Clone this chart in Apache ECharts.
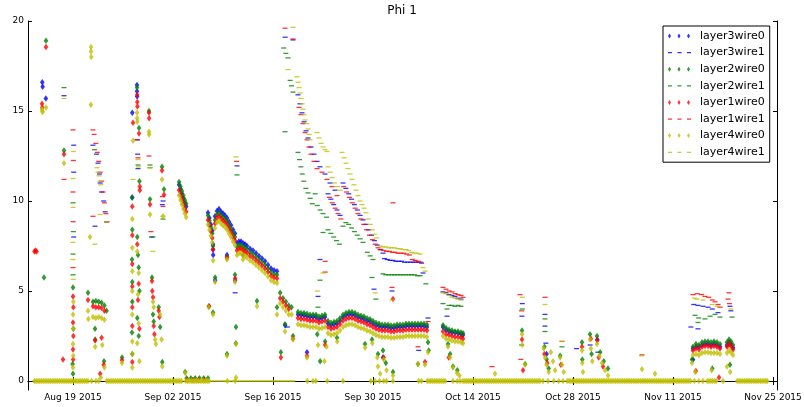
<!DOCTYPE html>
<html lang="en">
<head>
<meta charset="UTF-8">
<title>Phi 1</title>
<script src="https://cdn.jsdelivr.net/npm/echarts@6.0.0/dist/echarts.min.js"></script>
<style>
  html, body { margin: 0; padding: 0; background: #fff; }
  #main { width: 804px; height: 407px; }
</style>
</head>
<body>
<div id="main"></div>
<script type="text/javascript">
// x values are days counted from Aug 1 2015 (Aug 19 = 18)
var tickDays = [18, 32, 46, 60, 74, 88, 102, 116];
var tickLabels = ['Aug 19 2015', 'Sep 02 2015', 'Sep 16 2015', 'Sep 30 2015',
                  'Oct 14 2015', 'Oct 28 2015', 'Nov 11 2015', 'Nov 25 2015'];
var yTicks = [0, 5, 10, 15, 20];

// thick band, early Sep
var bandADays = [32.85,33.05,33.25,33.45,33.65,33.85,36.9,37.1,37.3,37.5,
  37.88,38.16,38.44,38.72,39.0,39.28,39.56,39.84,40.12,40.4,40.68,40.96,41.24,41.52,41.8,
  42.08,42.36,42.78,43.2,43.62,44.04,44.46,44.88,45.3,45.72,46.14,46.56];
var bandA_l3 = [10.9,10.65,10.4,10.15,9.9,9.7,9.35,9.05,8.7,8.35,
  9.15,9.45,9.55,9.4,9.3,9.2,9.05,8.85,8.65,8.4,8.2,7.65,7.75,7.75,7.65,
  7.6,7.5,7.35,7.25,7.1,6.95,6.8,6.65,6.45,6.25,6.15,6.1];
var bandA_l2 = [11.05,10.8,10.55,10.3,10.05,9.85,9.2,8.9,8.55,8.2,
  8.95,9.25,9.35,9.2,9.1,9.0,8.85,8.65,8.45,8.2,8.0,7.45,7.55,7.55,7.45,
  7.4,7.3,7.15,7.05,6.9,6.75,6.6,6.45,6.25,6.05,5.95,5.9];
var bandA_l1 = [10.6,10.35,10.1,9.85,9.6,9.4,8.95,8.65,8.3,7.95,
  8.75,9.05,9.15,9.0,8.9,8.8,8.65,8.45,8.25,8.0,7.8,7.25,7.35,7.35,7.25,
  7.2,7.1,6.95,6.85,6.7,6.55,6.4,6.25,6.05,5.85,5.75,5.7];
var bandA_l4 = [10.3,10.05,9.8,9.55,9.3,9.1,8.7,8.4,8.05,7.7,
  8.5,8.8,8.9,8.75,8.65,8.55,8.4,8.2,8.0,7.75,7.55,7.0,7.1,7.1,7.0,
  6.95,6.85,6.7,6.6,6.45,6.3,6.15,6.0,5.8,5.6,5.5,5.45];

// band around 3-4, Sep 18 - Oct 6
var bandBDays = [49.5,49.92,50.34,50.76,51.18,51.6,52.02,52.44,52.86,53.28,
  53.7,54.12,54.54,54.96,55.38,55.8,56.22,56.64,57.06,57.48,
  57.9,58.32,58.74,59.16,59.58,60.0,60.42,60.84,61.26,61.68,
  62.1,62.52,62.94,63.36,63.78,64.2,64.62,65.04,65.46,65.88,
  66.3,66.72,67.14,67.56];
var bandB_l3 = [3.7,3.65,3.65,3.6,3.55, 3.55,3.55,3.45,3.5,3.55, 3.2,3.1,3.15,3.2,3.35,
  3.55,3.65,3.7,3.7,3.65, 3.55,3.5,3.45,3.35,3.3, 3.2,3.1,3.05,3.0,3.0,
  3.0,2.95,2.95,3.0,3.0, 3.0,3.05,3.05,3.05,3.05, 3.05,3.05,3.05,3.0];
var bandB_l2 = [3.83,3.78,3.78,3.73,3.68, 3.68,3.68,3.58,3.63,3.68, 3.33,3.23,3.28,3.33,3.48,
  3.68,3.78,3.83,3.83,3.78, 3.68,3.63,3.58,3.48,3.43, 3.33,3.23,3.18,3.13,3.13,
  3.13,3.08,3.08,3.13,3.13, 3.13,3.18,3.18,3.18,3.18, 3.18,3.18,3.18,3.13];
var bandB_l1 = [3.5,3.45,3.45,3.4,3.35, 3.35,3.35,3.25,3.3,3.35, 3.0,2.9,2.95,3.0,3.15,
  3.35,3.45,3.5,3.5,3.45, 3.35,3.3,3.25,3.15,3.1, 3.0,2.9,2.85,2.8,2.8,
  2.8,2.75,2.75,2.8,2.8, 2.8,2.85,2.85,2.85,2.85, 2.85,2.85,2.85,2.8];
var bandB_l4 = [3.15,3.1,3.1,3.05,3.0, 3.0,3.0,2.9,2.95,3.0, 2.65,2.55,2.6,2.65,2.8,
  3.0,3.1,3.15,3.15,3.1, 3.0,2.95,2.9,2.8,2.75, 2.65,2.55,2.5,2.45,2.45,
  2.45,2.4,2.4,2.45,2.45, 2.45,2.5,2.5,2.5,2.5, 2.5,2.5,2.5,2.45];

// short band Oct 8-12
var bandCDays = [69.8,70.22,70.64,71.06,71.48,71.9,72.32,72.6];
var bandC_l3 = [3.0,2.85,2.75,2.7,2.7,2.65,2.6,2.55];
var bandC_l2 = [3.1,2.95,2.85,2.8,2.75,2.75,2.7,2.65];
var bandC_l1 = [2.75,2.6,2.55,2.5,2.45,2.45,2.4,2.35];
var bandC_l4 = [2.5,2.35,2.3,2.25,2.2,2.2,2.15,2.1];

// short band mid Nov
var bandEDays = [104.8,105.22,105.64,106.06,106.48,106.9,107.32,107.74,108.16,108.58,109.56,109.84,110.12,110.4];
var bandE_l3 = [1.8,1.9,1.9,2.0,2.05,2.05,2.0,2.05,2.0,1.9,2.0,2.15,2.05,1.85];
var bandE_l2 = [1.9,2.05,2.0,2.15,2.2,2.2,2.15,2.2,2.15,2.05,2.15,2.3,2.2,2.0];
var bandE_l1 = [1.7,1.8,1.75,1.9,1.95,1.95,1.9,1.95,1.9,1.8,1.9,2.05,1.95,1.75];
var bandE_l4 = [1.45,1.5,1.45,1.55,1.6,1.6,1.55,1.55,1.55,1.5,1.55,1.7,1.6,1.45];

// days where layer4wire0 sits at zero
var zeroDays = [12.6,12.85,13.1,13.35,13.6,13.85,14.1,14.35,14.6,14.85,15.1,15.35,15.6,15.85,
  16.1,16.35,16.6,16.85,17.1,17.35,17.6,17.85,
  18.1,18.35,18.6,18.85,19.1,19.35,19.6,19.85,20.1,20.6,21.2,21.6,
  22.7,22.95,23.2,23.45,23.7,23.95,24.2,24.45,24.7,24.95,25.2,25.45,25.7,25.95,26.2,26.45,
  26.7,26.95,27.2,27.45,27.7,27.95,28.2,28.45,28.7,28.95,29.2,29.45,29.7,29.95,30.2,30.45,
  30.7,30.95,31.2,31.45,31.7,31.95,32.2,32.45,32.7,32.95,33.2,
  33.8,34.05,34.3,34.55,34.8,35.05,35.3,35.55,35.8,36.05,36.3,36.55,36.8,37.05,
  39.6,40.7,50.8,51.6,52.0,53.6,55.8,59.7,60.3,60.9,61.5,61.9,62.8,66.4,66.8,
  67.6,67.85,68.1,68.35,68.6,68.85,69.1,69.35,69.6,69.85,70.1,71.2,71.8,72.2,
  72.6,72.85,73.1,73.35,73.6,73.85,74.1,74.35,74.6,74.85,75.1,75.35,75.6,75.85,76.1,76.35,
  76.6,76.85,77.1,77.35,77.6,77.85,78.1,78.35,78.6,78.85,79.1,79.35,79.6,79.85,80.1,80.35,
  80.6,80.85,81.1,81.35,81.6,81.85,82.1,82.35,82.6,82.85,83.1,83.35,
  83.8,84.5,85.3,86.0,86.6,
  87.2,87.45,87.7,87.95,88.2,88.45,88.7,88.95,89.2,89.45,89.7,89.95,90.2,90.45,90.7,90.95,
  91.2,91.45,91.7,91.95,92.2,92.45,92.7,92.95,93.2,93.45,93.7,93.95,94.2,94.45,94.7,94.95,
  95.2,95.45,95.7,95.95,96.2,96.45,96.7,96.95,97.2,97.45,97.7,97.95,98.2,98.45,98.7,98.95,
  99.2,99.45,99.7,99.95,100.2,100.45,100.7,100.95,101.2,101.45,101.7,101.95,102.2,102.45,
  102.7,102.95,103.2,103.45,103.7,103.95,104.2,104.45,
  105.0,105.6,106.2,106.8,107.05,107.3,107.55,107.8,108.05,109.0,
  111.0,111.25,111.5,111.75,112.0,112.25,112.5,112.75,113.0,113.25,113.5,113.75,
  114.0,114.25,114.5,114.75,115.0,115.2];
// days where layer4wire1 draws the thin line at zero
var zeroLineDays = [37.4,37.8,38.2,38.6,39.0,39.4,39.8,40.2,40.6,41.0,41.4,41.8,42.2,42.6,43.0,
  43.4,43.8,44.2,44.6,45.0,45.4,45.8,46.2,46.6,47.0,47.4,47.8,48.2,48.6,48.8];

// loose points [day, value]
var l3w0Pts = [[13.7,16.6],[13.75,16.35],[14.2,15.7],[26.96,16.45],[26.96,16.1],[26.98,15.8],
  [26.3,14.9],[26.3,10.2],[37.6,7.6],[37.6,7.3],[37.62,7.0],[37.9,5.6],[39.56,7.0],[41.8,7.0],
  [40.7,5.6],[47.7,3.1],[50.76,1.6],[61.4,1.3],[84.3,1.5],[91.4,2.3],[104.8,1.2]];
var l3w1Pts = [[16.74,15.85],[18.1,13.1],[18.1,11.6],[18.1,8.0],[20.8,13.1],[21.3,12.6],[21.5,12.1],
  [21.7,11.5],[21.8,11.0],[22.0,10.5],[22.3,10.0],[22.5,9.4],[22.7,8.85],[21.08,8.6],[27.0,13.4],
  [27.05,12.6],[27.1,11.8],[30.6,10.0],[30.5,9.8],[29.0,8.0],[40.96,11.95],[40.7,4.9],
  [47.7,19.1],[48.8,18.95],
  [49.5,15.9],[49.78,15.4],[50.06,14.9],[50.34,14.4],[50.62,13.9],[50.9,13.5],[51.32,13.0],[51.74,12.6],[52.16,12.2],
  [52.58,11.9],[53.28,11.5],[53.98,11.0],[54.68,10.6],
  [53.7,10.4],[54.1,10.1],[54.5,9.8],[54.96,9.5],[55.38,9.2],
  [55.8,11.0],[56.2,10.7],[56.6,10.4],[57.0,10.1],[57.4,9.8],[57.8,9.5],[58.2,9.2],[58.6,8.95],
  [59.0,8.7],[59.4,8.4],[59.8,8.1],[60.2,7.8],[60.6,7.55],[61.0,7.3],[61.4,7.1],
  [61.6,6.8],[62.0,6.75],[62.4,6.7],[62.8,6.7],[63.2,6.65],[63.6,6.65],[64.0,6.65],[64.4,6.6],
  [64.8,6.6],[65.2,6.6],[65.6,6.6],[66.0,6.6],[66.4,6.6],[66.8,6.55],
  [52.58,6.75],[48.0,3.0],[52.3,4.7],[60.14,5.1],[62.66,5.0],[67.0,6.0],[67.7,3.5],[66.4,1.7],
  [69.8,4.95],[70.22,4.9],[70.64,4.8],[71.06,4.75],[71.48,4.7],[71.9,4.6],[72.32,4.55],[70.36,3.6],
  [80.9,4.3],[80.85,3.6],[84.08,3.7],[84.08,3.05],[84.2,2.1],[88.5,1.8],[90.4,2.0],[91.5,1.6],
  [104.9,4.25],[105.5,4.2],[106.2,4.15],[106.9,4.1],[107.5,4.0],[108.3,3.8],[109.98,4.15],[110.1,3.9],
  [105.5,2.9],[104.5,3.0]];
var l2w0Pts = [[14.22,18.9],[13.94,5.75],[16.74,12.8],[18.0,5.2],[18.05,2.9],[17.95,0.95],[18.0,0.4],
  [20.1,4.9],[21.08,2.9],[21.1,2.3],[22.34,1.1],[20.8,4.4],[21.2,4.45],[21.6,4.4],[22.0,4.35],
  [22.4,4.2],[22.7,3.9],[24.86,1.3],
  [26.96,16.3],[27.24,14.05],[27.3,11.1],[26.26,10.2],[26.3,8.4],[26.26,6.75],[26.3,5.5],[26.3,4.4],
  [26.26,2.7],[26.3,1.5],[27.0,8.0],[27.1,7.0],[27.2,6.3],[27.3,5.0],[27.0,3.5],[27.2,2.5],
  [28.64,15.0],[28.78,10.1],[29.06,5.75],[29.2,3.7],[29.3,3.3],[30.46,11.9],[30.74,10.65],
  [30.0,4.1],[30.2,3.0],[30.5,1.05],[33.7,0.5],
  [33.9,0.15],[34.5,0.15],[35.1,0.15],[35.7,0.15],[36.3,0.15],[36.9,0.15],
  [37.6,7.5],[37.9,5.75],[37.04,4.15],[37.6,3.8],[39.56,1.5],[39.56,6.9],[40.68,5.9],[40.82,3.0],
  [40.8,2.1],[43.76,4.45],[46.56,4.1],
  [47.0,4.9],[47.4,4.6],[47.8,4.4],[48.2,4.2],[48.6,4.1],[47.68,3.15],[48.8,2.5],[47.1,1.6],
  [52.2,2.6],[52.6,1.1],[53.3,2.2],[54.96,2.4],[58.88,2.05],[59.86,2.3],[60.7,1.5],[61.4,1.7],
  [61.8,1.0],[62.8,0.5],[66.3,0.95],[67.7,2.15],[67.8,1.7],
  [70.5,2.05],[70.8,1.5],[71.2,0.8],[71.8,0.6],[80.86,2.8],[81.3,0.95],
  [84.0,1.9],[84.3,1.2],[84.6,0.7],[86.2,1.4],[89.26,2.15],[89.3,1.2],[90.38,2.6],[90.6,1.5],
  [91.36,2.5],[91.8,1.6],[92.3,1.1],[92.9,0.7],[104.66,1.2],[107.5,0.7],[109.98,0.9]];
var l2w1Pts = [[16.74,16.3],[18.0,9.9],[18.05,8.3],[18.0,7.05],[18.0,5.9],[21.0,12.85],[22.7,8.85],
  [27.1,12.0],[28.78,12.0],[28.78,11.85],[30.6,9.0],[29.2,8.0],[40.96,11.45],
  [47.5,18.5],[47.8,18.2],[48.1,17.95],[48.4,16.7],[48.6,16.4],[48.8,16.05],[47.68,13.85],
  [49.5,12.7],[49.7,12.3],[49.9,11.9],[50.1,11.5],[50.3,11.1],[50.6,10.7],
  [50.9,10.45],[51.2,10.15],[51.5,9.85],[52.2,9.75],[52.6,9.5],[53.0,9.3],[53.5,9.1],
  [53.7,8.4],[54.1,8.2],[54.5,8.0],[54.9,7.8],[55.3,7.6],
  [55.8,8.6],[56.2,8.8],[56.6,8.7],[57.0,8.5],[57.4,8.3],[57.8,8.1],[58.2,7.9],[58.6,7.7],
  [59.2,7.15],[59.6,6.95],[60.0,6.75],
  [61.4,5.95],[61.8,5.9],[62.2,5.9],[62.6,5.9],[63.0,5.9],[63.4,5.9],[63.8,5.9],[64.2,5.9],
  [64.6,5.9],[65.0,5.9],[65.4,5.9],[65.8,5.9],[66.2,5.85],[66.6,5.85],
  [52.58,5.6],[51.9,10.4],[53.0,8.25],[59.86,5.75],[60.4,4.55],[52.3,4.1],[67.4,5.4],
  [69.8,4.3],[70.36,4.0],[70.64,4.2],[71.06,4.2],[71.48,4.15],[71.9,4.2],[72.32,4.15],
  [80.9,4.0],[80.8,2.0],[84.08,3.45],[84.08,2.75],[86.46,1.9],
  [105.08,3.65],[105.6,3.5],[106.48,3.45],[107.2,3.6],[107.88,3.7],[108.58,3.55],[110.26,3.55],[105.5,3.25]];
var l1w0Pts = [[12.6,7.2],[12.75,7.25],[12.9,7.2],[14.22,18.55],[13.66,15.4],[13.7,15.2],[16.6,1.2],
  [16.74,12.6],[18.0,4.7],[18.05,4.1],[18.0,3.25],[18.05,2.5],[18.0,1.75],[18.02,1.2],
  [20.1,4.5],[20.8,4.15],[21.2,4.1],[21.6,4.1],[22.0,4.05],[22.4,3.9],[21.1,2.25],[22.0,2.4],
  [21.8,0.4],[22.3,0.9],[24.86,1.15],
  [26.4,14.35],[26.98,15.9],[27.0,15.5],[27.02,15.25],[27.24,13.75],[27.35,10.8],[27.35,10.6],
  [26.3,9.7],[26.3,8.1],[26.3,6.5],[26.3,5.25],[26.3,4.1],[26.3,3.05],[26.3,1.05],[27.0,7.6],
  [27.2,5.4],[27.1,4.5],[27.3,2.9],
  [28.64,14.9],[28.66,14.6],[28.78,9.8],[29.06,5.55],[29.1,5.0],[29.2,4.65],[29.3,3.05],[29.4,2.6],
  [30.0,3.9],[30.1,3.55],[30.46,11.7],[30.74,10.35],
  [34.0,0.05],[34.8,0.05],[35.6,0.05],[36.4,0.05],
  [37.04,4.15],[37.6,7.3],[39.56,6.85],[40.7,5.7],
  [47.0,4.6],[47.4,4.4],[47.8,4.2],[48.2,4.0],[47.1,1.3],[48.8,2.35],[50.76,1.4],[53.3,2.0],
  [62.8,4.55],[61.5,1.3],[67.28,1.05],[70.6,1.3],[80.86,2.3],[81.0,0.6],
  [84.0,1.5],[84.4,1.0],[86.3,0.9],[89.26,1.9],[90.5,2.35],[91.4,2.25],[91.6,1.3],[92.2,0.8],
  [108.44,0.2],[105.2,0.55]];
var l1w1Pts = [[16.74,11.2],[18.0,13.95],[18.05,12.25],[18.0,10.5],[18.02,8.85],[18.0,6.3],
  [20.8,13.95],[20.95,13.7],[21.2,13.2],[21.4,12.7],[21.6,12.2],[21.8,11.6],[22.0,11.1],
  [22.2,10.5],[22.4,9.9],[22.6,9.3],[22.76,8.85],[20.8,9.15],
  [26.98,13.4],[27.1,12.4],[28.64,12.5],[30.5,10.25],[30.6,9.7],[28.9,8.3],[40.9,12.2],
  [47.68,19.6],[48.8,19.0],
  [49.64,15.2],[49.92,14.8],[50.2,14.3],[50.48,13.8],[50.76,13.4],[51.04,13.0],[51.32,12.6],
  [51.74,12.2],[52.16,11.8],[52.86,11.6],[53.56,11.2],[54.26,10.8],[54.96,10.3],
  [53.9,10.2],[54.3,9.9],[54.7,9.6],[55.1,9.3],[55.5,9.0],
  [55.9,10.8],[56.3,10.5],[56.7,10.2],[57.1,9.9],[57.5,9.6],[57.9,9.3],[58.3,9.0],[58.7,8.7],
  [59.1,8.4],[59.5,8.1],[59.9,7.85],[60.3,7.6],[60.7,7.4],[61.1,7.3],
  [61.5,7.25],[61.9,7.2],[62.3,7.2],[62.7,7.15],[63.1,7.15],[63.5,7.1],[63.9,7.1],[64.3,7.1],
  [64.7,7.05],[65.1,7.0],[65.5,6.75],[65.9,6.7],[66.3,6.65],[66.7,6.6],
  [53.3,6.65],[53.3,6.05],[62.8,9.9],[62.66,5.2],[66.3,1.9],[67.7,3.3],
  [69.8,5.2],[70.22,5.1],[70.64,5.0],[71.06,4.95],[71.48,4.85],[71.9,4.8],[72.32,4.75],[72.6,4.65],
  [76.66,0.8],[80.58,4.8],[80.8,3.9],[80.7,1.2],[84.08,4.65],[86.46,2.2],[97.66,1.45],
  [104.8,4.8],[105.4,4.85],[106.0,4.8],[106.48,4.7],[107.0,4.65],[107.5,4.5],[107.88,4.4],
  [108.3,4.25],[108.58,4.1],[109.7,4.55],[109.84,4.9],[109.9,4.3]];
var l4w0Pts = [[13.66,15.1],[13.7,15.0],[13.75,14.95],[14.22,15.2],[16.74,12.1],
  [18.05,4.4],[18.0,3.7],[18.02,2.9],[18.0,2.05],[18.03,1.4],[18.0,0.75],
  [20.52,18.55],[20.52,18.3],[20.55,18.0],[20.5,15.35],[20.38,8.0],[20.1,3.9],[20.15,3.45],
  [20.8,3.55],[21.2,3.5],[21.6,3.55],[22.0,3.5],[22.4,3.4],[21.1,1.9],[22.1,2.0],[22.4,0.75],
  [21.9,0.2],[24.86,1.0],
  [26.4,13.35],[26.96,14.9],[26.98,14.6],[27.0,14.4],[26.3,9.0],[26.3,7.4],[26.3,6.1],[26.3,5.0],
  [26.3,3.7],[26.3,2.2],[26.3,1.5],[26.3,0.75],[27.0,7.2],[27.2,6.0],[27.1,4.8],[27.2,3.2],
  [27.0,2.1],[27.3,1.1],
  [28.64,13.85],[28.66,13.7],[28.78,9.25],[29.2,4.4],[29.3,4.1],[29.5,2.3],[29.6,2.05],[30.2,3.7],
  [30.4,2.3],[30.5,0.8],[30.46,11.2],[30.6,9.15],[33.7,0.45],
  [37.0,4.1],[37.62,6.7],[37.88,5.5],[37.6,3.7],[39.56,1.4],[39.56,6.75],[40.68,5.5],[40.8,2.05],
  [40.82,0.2],[41.8,6.75],[43.76,4.15],[46.56,3.7],
  [47.0,4.3],[47.4,4.1],[47.8,3.9],[48.2,3.7],[48.6,3.7],[47.68,2.75],[48.8,2.3],[50.76,1.3],
  [52.3,2.0],[53.2,1.1],[53.5,1.9],[55.0,2.2],[58.9,1.85],[59.9,2.1],[60.6,1.3],[60.7,0.8],
  [61.0,0.4],[61.5,1.2],[61.9,0.6],[62.8,0.3],
  [66.3,0.95],[67.28,0.9],[67.7,1.6],[70.5,1.9],[70.8,1.3],[71.2,0.75],[71.76,0.45],[72.1,0.3],
  [77.08,0.4],[80.86,2.6],[80.9,2.0],[81.28,0.9],
  [83.9,1.8],[84.1,1.3],[84.3,0.9],[84.6,0.5],[84.9,1.6],[85.2,1.1],[85.5,0.6],[86.2,1.3],
  [86.46,0.9],[86.7,0.5],
  [89.26,1.7],[89.3,1.0],[89.4,0.5],[90.38,2.3],[90.5,1.8],[90.7,1.1],[91.36,2.05],[91.7,1.4],
  [92.06,1.0],[92.5,0.6],[92.9,0.3],[97.66,0.65],[99.48,0.4],
  [104.66,1.0],[105.1,0.5],[107.4,0.6],[109.56,0.8],[110.0,0.5]];
var l4w1Pts = [[16.74,15.7],[18.05,12.75],[18.0,11.25],[18.02,9.65],[18.0,7.7],[18.0,6.75],[18.05,5.65],
  [21.36,11.85],[21.5,11.6],[21.64,11.4],[21.78,11.1],[21.9,10.9],[21.08,7.6],[21.78,9.25],[22.7,8.85],
  [26.4,11.2],[27.1,12.3],[27.15,11.9],[28.78,11.85],[29.2,7.2],[30.6,9.15],[40.82,12.45],
  [48.8,19.65],[48.1,17.3],
  [49.36,16.9],[49.5,16.6],[49.64,16.3],[49.78,16.0],[49.92,15.7],[50.06,15.4],[50.2,15.1],
  [50.34,14.8],[50.48,14.5],[50.76,14.3],[50.9,14.0],[51.04,13.7],[51.18,13.4],
  [52.16,13.8],[52.44,13.5],[52.72,13.2],[53.0,13.0],[53.28,12.85],[53.56,12.75],
  [53.7,11.9],[54.0,11.6],[54.3,11.3],[54.6,11.0],[55.0,10.8],[55.4,10.6],
  [55.66,12.7],[55.94,12.4],[56.22,12.1],[56.5,11.8],[56.78,11.5],[57.06,11.2],[57.34,10.9],
  [57.62,10.6],[57.9,10.3],[58.18,10.0],[58.46,9.8],[58.74,9.6],[59.02,9.35],
  [59.3,9.0],[59.6,8.7],[59.9,8.4],[60.2,8.15],[60.5,7.95],
  [61.0,7.5],[61.4,7.45],[61.8,7.45],[62.2,7.4],[62.6,7.4],[63.0,7.4],[63.4,7.35],[63.8,7.35],
  [64.2,7.3],[64.6,7.3],[65.0,7.25],[65.4,7.15],[65.8,7.1],[66.2,7.1],[66.6,7.05],[67.0,6.3],[67.3,6.1],
  [52.2,5.0],[53.0,6.0],[62.66,4.5],[60.3,4.9],
  [69.8,4.9],[70.22,4.85],[70.64,4.75],[71.06,4.65],[71.48,4.6],[71.9,4.55],[72.32,4.5],
  [80.9,4.65],[84.08,4.25],[86.46,2.2],[97.6,1.4],
  [105.36,4.55],[106.2,4.5],[107.46,4.25],[108.2,4.15],[110.12,4.0],[105.0,4.6]];

function zip(days, vals) {
    return days.map(function (d, i) { return [d, vals[i]]; });
}

var l3w0Data = l3w0Pts.concat(zip(bandADays, bandA_l3), zip(bandBDays, bandB_l3), zip(bandCDays, bandC_l3), zip(bandEDays, bandE_l3));
var l2w0Data = l2w0Pts.concat(zip(bandADays, bandA_l2), zip(bandBDays, bandB_l2), zip(bandCDays, bandC_l2), zip(bandEDays, bandE_l2));
var l1w0Data = l1w0Pts.concat(zip(bandADays, bandA_l1), zip(bandBDays, bandB_l1), zip(bandCDays, bandC_l1), zip(bandEDays, bandE_l1));
var l4w0Data = zeroDays.map(function (d) { return [d, 0]; })
    .concat(l4w0Pts, zip(bandADays, bandA_l4), zip(bandBDays, bandB_l4), zip(bandCDays, bandC_l4), zip(bandEDays, bandE_l4));
var l4w1Data = zeroLineDays.map(function (d) { return [d, 0]; }).concat(l4w1Pts);

var blue = '#0000ff', green = '#008000', red = '#ff0000', yellow = '#bfbf00';

// legend icons: three markers, like matplotlib numpoints=3
var dotIcon = 'path://M0,0M27,5M1.5,0L3,2.5L1.5,5L0,2.5ZM11,0L12.5,2.5L11,5L9.5,2.5ZM20.5,0L22,2.5L20.5,5L19,2.5Z';
var dashIcon = 'path://M0,0M27,5M0,2L4,2L4,3.2L0,3.2ZM9.5,2L13.5,2L13.5,3.2L9.5,3.2ZM19,2L23,2L23,3.2L19,3.2Z';

function wire0(name, color, data) {
    return {
        name: name, type: 'scatter', data: data,
        symbol: 'diamond', symbolSize: [4.6, 6.5],
        itemStyle: { color: color },
        silent: true
    };
}
function wire1(name, color, data) {
    return {
        name: name, type: 'scatter', data: data,
        symbol: 'rect', symbolSize: [5, 1.3],
        itemStyle: { color: color, opacity: 0.8 },
        silent: true
    };
}

var myChart = echarts.init(document.getElementById('main'));
var axisBlack = { lineStyle: { color: '#000', width: 1 } };

var option = {
    animation: false,
    backgroundColor: '#fff',
    title: {
        text: 'Phi 1', left: 'center', top: 5, padding: 0,
        textStyle: { fontFamily: 'DejaVu Sans', fontSize: 12, fontWeight: 'normal', color: '#000' }
    },
    grid: { left: 28, right: 27, top: 21, bottom: 17, containLabel: false, outerBoundsMode: 'none' },
    legend: {
        orient: 'vertical', left: 663, top: 26,
        padding: [4, 5, 4, 5], itemGap: 4.6,
        itemWidth: 27, itemHeight: 5,
        borderColor: '#000', borderWidth: 1, borderRadius: 0, backgroundColor: '#fff',
        selectedMode: false,
        textStyle: { fontFamily: 'DejaVu Sans', fontSize: 11, color: '#000', lineHeight: 12 },
        data: [
            { name: 'layer3wire0', icon: dotIcon },
            { name: 'layer3wire1', icon: dashIcon },
            { name: 'layer2wire0', icon: dotIcon },
            { name: 'layer2wire1', icon: dashIcon },
            { name: 'layer1wire0', icon: dotIcon },
            { name: 'layer1wire1', icon: dashIcon },
            { name: 'layer4wire0', icon: dotIcon },
            { name: 'layer4wire1', icon: dashIcon }
        ]
    },
    xAxis: [{
        type: 'value', min: 11.7, max: 116.56, position: 'bottom',
        axisLine: axisBlack,
        axisTick: { inside: true, length: 4, lineStyle: { color: '#000' }, customValues: tickDays },
        axisLabel: {
            customValues: tickDays, margin: 3,
            fontFamily: 'DejaVu Sans', fontSize: 9, color: '#000',
            formatter: function (v) { return tickLabels[tickDays.indexOf(v)]; }
        },
        splitLine: { show: false }
    }, {
        type: 'value', min: 11.7, max: 116.56, position: 'top',
        axisLine: axisBlack,
        axisTick: { inside: true, length: 4, lineStyle: { color: '#000' }, customValues: tickDays },
        axisLabel: { show: false },
        splitLine: { show: false }
    }],
    yAxis: [{
        type: 'value', min: -0.5, max: 20, position: 'left',
        axisLine: { show: true, lineStyle: { color: '#000', width: 1 } },
        axisTick: { show: true, inside: true, length: 4, lineStyle: { color: '#000' }, customValues: yTicks },
        axisLabel: { customValues: yTicks, margin: 4, fontFamily: 'DejaVu Sans', fontSize: 9, color: '#000' },
        splitLine: { show: false }
    }, {
        type: 'value', min: -0.5, max: 20, position: 'right',
        axisLine: { show: true, lineStyle: { color: '#000', width: 1 } },
        axisTick: { show: true, inside: true, length: 4, lineStyle: { color: '#000' }, customValues: yTicks },
        axisLabel: { show: false },
        splitLine: { show: false }
    }],
    series: [
        wire0('layer3wire0', blue, l3w0Data),
        wire1('layer3wire1', blue, l3w1Pts),
        wire0('layer2wire0', green, l2w0Data),
        wire1('layer2wire1', green, l2w1Pts),
        wire0('layer1wire0', red, l1w0Data),
        wire1('layer1wire1', red, l1w1Pts),
        wire0('layer4wire0', yellow, l4w0Data),
        wire1('layer4wire1', yellow, l4w1Data)
    ]
};

myChart.setOption(option);
</script>
</body>
</html>
